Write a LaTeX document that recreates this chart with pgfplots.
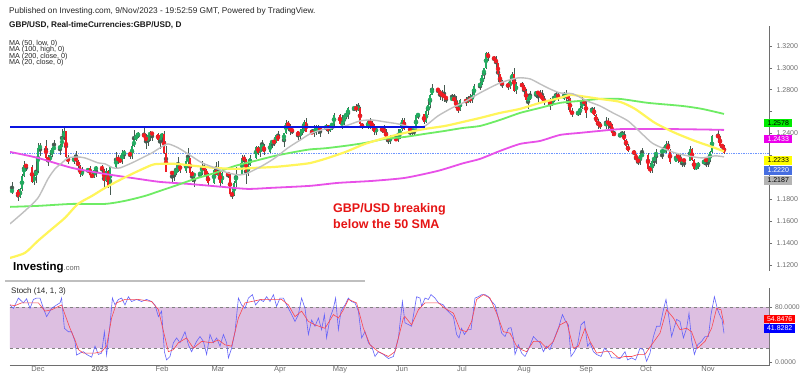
\documentclass[border=0pt]{standalone}
\usepackage{pgfplots}
\pgfplotsset{compat=1.18}
\usepackage{pgfplotstable}
\usepackage{fontspec}
\setmainfont{Liberation Sans}
\definecolor{cgreen}{RGB}{34,171,96}
\definecolor{cred}{RGB}{240,28,36}
\definecolor{mayellow}{RGB}{255,245,90}
\definecolor{magreen}{RGB}{110,236,100}
\definecolor{mamag}{RGB}{232,80,232}
\definecolor{magray}{RGB}{192,192,192}
\definecolor{resblue}{RGB}{10,20,225}
\definecolor{dotblue}{RGB}{110,150,255}
\definecolor{axgray}{RGB}{110,110,110}
\definecolor{band}{RGB}{221,191,225}
\definecolor{kblue}{RGB}{100,100,250}
\definecolor{dred}{RGB}{250,70,80}
\definecolor{lblgreen}{RGB}{0,235,0}
\definecolor{lblmag}{RGB}{235,0,235}
\definecolor{lblyel}{RGB}{255,255,0}
\definecolor{lblblue}{RGB}{70,110,225}
\definecolor{lblgray}{RGB}{180,180,180}
\definecolor{annred}{RGB}{230,20,20}
\definecolor{wick}{RGB}{70,90,80}

\pgfplotstableread{
d o h l c
-13 1.1866 1.1955 1.1852 1.1885
-10 1.1880 1.1890 1.1780 1.1822
-9 1.1822 1.1904 1.1811 1.1890
-8 1.1890 1.2030 1.1872 1.2013
-7 1.2013 1.2153 1.2005 1.2117
-6 1.2117 1.2120 1.2055 1.2093
-3 1.2093 1.2109 1.1945 1.1960
-2 1.1960 1.2038 1.1934 1.2016
-1 1.2016 1.2155 1.1944 1.2055
0 1.2055 1.2310 1.2040 1.2265
1 1.2265 1.2313 1.2195 1.2287
4 1.2287 1.2345 1.2160 1.2180
5 1.2180 1.2205 1.2105 1.2150
6 1.2150 1.2223 1.2140 1.2200
7 1.2200 1.2275 1.2190 1.2265
8 1.2265 1.2344 1.2250 1.2268
11 1.2268 1.2308 1.2208 1.2280
12 1.2280 1.2444 1.2275 1.2365
13 1.2365 1.2447 1.2340 1.2420
14 1.2420 1.2425 1.2145 1.2185
15 1.2185 1.2200 1.2125 1.2140
18 1.2140 1.2200 1.2125 1.2180
19 1.2180 1.2240 1.2140 1.2150
20 1.2150 1.2160 1.2085 1.2100
21 1.2100 1.2115 1.2005 1.2030
22 1.2030 1.2090 1.2010 1.2050
25 1.2050 1.2085 1.2040 1.2082
26 1.2082 1.2100 1.2015 1.2025
27 1.2025 1.2035 1.1990 1.2005
28 1.2005 1.2075 1.1995 1.2065
29 1.2065 1.2100 1.2005 1.2098
32 1.2098 1.2117 1.2030 1.2070
33 1.2070 1.2075 1.1900 1.1965
34 1.1965 1.2085 1.1960 1.2057
35 1.2057 1.2063 1.1900 1.1925
36 1.1925 1.2090 1.1841 1.2090
39 1.2090 1.2235 1.2085 1.2180
40 1.2180 1.2200 1.2125 1.2155
41 1.2155 1.2183 1.2135 1.2150
42 1.2150 1.2247 1.2125 1.2218
43 1.2218 1.2247 1.2170 1.2227
46 1.2227 1.2245 1.2165 1.2195
47 1.2195 1.2300 1.2170 1.2285
48 1.2285 1.2435 1.2280 1.2340
49 1.2340 1.2408 1.2330 1.2385
50 1.2385 1.2412 1.2355 1.2395
53 1.2395 1.2448 1.2330 1.2370
54 1.2370 1.2395 1.2263 1.2335
55 1.2335 1.2390 1.2285 1.2385
56 1.2385 1.2420 1.2330 1.2405
57 1.2405 1.2418 1.2335 1.2395
60 1.2395 1.2405 1.2335 1.2345
61 1.2345 1.2395 1.2260 1.2370
62 1.2370 1.2402 1.2305 1.2395
63 1.2395 1.2420 1.2210 1.2220
64 1.2220 1.2290 1.2045 1.2050
67 1.2050 1.2055 1.1960 1.2030
68 1.2030 1.2070 1.1965 1.2050
69 1.2050 1.2107 1.2025 1.2060
70 1.2060 1.2190 1.2050 1.2120
71 1.2120 1.2135 1.2040 1.2060
74 1.2060 1.2160 1.2035 1.2150
75 1.2150 1.2270 1.2105 1.2175
76 1.2175 1.2178 1.2020 1.2040
77 1.2040 1.2055 1.1960 1.2020
78 1.2020 1.2040 1.1915 1.2025
81 1.2025 1.2050 1.1995 1.2040
82 1.2040 1.2145 1.2020 1.2100
83 1.2100 1.2135 1.2045 1.2065
84 1.2065 1.2080 1.1990 1.2020
85 1.2020 1.2040 1.1925 1.1945
88 1.1945 1.2075 1.1935 1.2065
89 1.2065 1.2140 1.2020 1.2020
90 1.2020 1.2145 1.1995 1.2050
91 1.2050 1.2065 1.1922 1.1950
92 1.1950 1.2045 1.1940 1.2040
95 1.2040 1.2045 1.1995 1.2020
96 1.2020 1.2030 1.1840 1.1850
97 1.1850 1.1875 1.1802 1.1840
98 1.1840 1.1965 1.1825 1.1950
99 1.1950 1.2090 1.1910 1.2030
102 1.2030 1.2205 1.2025 1.2180
103 1.2180 1.2205 1.2110 1.2160
104 1.2160 1.2170 1.1935 1.2050
105 1.2050 1.2130 1.2010 1.2115
106 1.2115 1.2200 1.2100 1.2180
109 1.2180 1.2285 1.2170 1.2280
110 1.2280 1.2290 1.2200 1.2225
111 1.2225 1.2305 1.2190 1.2275
112 1.2275 1.2343 1.2260 1.2290
113 1.2290 1.2300 1.2205 1.2230
116 1.2230 1.2320 1.2225 1.2310
117 1.2310 1.2340 1.2270 1.2335
118 1.2335 1.2345 1.2290 1.2315
119 1.2315 1.2390 1.2310 1.2390
120 1.2390 1.2425 1.2335 1.2335
123 1.2335 1.2405 1.2275 1.2405
124 1.2405 1.2525 1.2395 1.2500
125 1.2500 1.2510 1.2425 1.2465
126 1.2465 1.2485 1.2390 1.2440
127 1.2440 1.2445 1.2395 1.2420
130 1.2420 1.2425 1.2345 1.2375
131 1.2375 1.2440 1.2350 1.2415
132 1.2415 1.2455 1.2385 1.2430
133 1.2430 1.2525 1.2425 1.2505
134 1.2505 1.2546 1.2410 1.2415
137 1.2415 1.2440 1.2395 1.2405
138 1.2405 1.2475 1.2370 1.2435
139 1.2435 1.2475 1.2390 1.2440
140 1.2440 1.2475 1.2400 1.2445
141 1.2445 1.2470 1.2365 1.2440
144 1.2440 1.2485 1.2420 1.2475
145 1.2475 1.2480 1.2395 1.2420
146 1.2420 1.2485 1.2415 1.2475
147 1.2475 1.2490 1.2430 1.2485
148 1.2485 1.2585 1.2470 1.2570
151 1.2570 1.2580 1.2485 1.2490
152 1.2490 1.2565 1.2445 1.2492
153 1.2492 1.2575 1.2480 1.2565
154 1.2565 1.2600 1.2530 1.2570
155 1.2570 1.2640 1.2535 1.2630
158 1.2630 1.2645 1.2605 1.2633
159 1.2633 1.2668 1.2595 1.2628
160 1.2628 1.2680 1.2610 1.2632
161 1.2632 1.2640 1.2485 1.2490
162 1.2490 1.2500 1.2445 1.2455
165 1.2455 1.2520 1.2440 1.2515
166 1.2515 1.2545 1.2445 1.2490
167 1.2490 1.2515 1.2430 1.2475
168 1.2475 1.2490 1.2390 1.2415
169 1.2415 1.2470 1.2390 1.2445
172 1.2445 1.2465 1.2405 1.2435
173 1.2435 1.2475 1.2390 1.2415
174 1.2415 1.2445 1.2350 1.2365
175 1.2365 1.2370 1.2308 1.2345
176 1.2345 1.2390 1.2300 1.2350
179 1.2350 1.2395 1.2330 1.2345
180 1.2345 1.2445 1.2320 1.2380
181 1.2380 1.2445 1.2350 1.2440
182 1.2440 1.2545 1.2425 1.2525
183 1.2525 1.2545 1.2435 1.2445
186 1.2445 1.2450 1.2370 1.2430
187 1.2430 1.2445 1.2390 1.2435
188 1.2435 1.2450 1.2380 1.2440
189 1.2440 1.2575 1.2435 1.2565
190 1.2565 1.2590 1.2535 1.2575
193 1.2575 1.2580 1.2490 1.2505
194 1.2505 1.2620 1.2495 1.2605
195 1.2605 1.2690 1.2565 1.2660
196 1.2660 1.2765 1.2635 1.2755
197 1.2755 1.2848 1.2750 1.2815
200 1.2815 1.2820 1.2760 1.2785
201 1.2785 1.2800 1.2710 1.2760
202 1.2760 1.2800 1.2700 1.2750
203 1.2750 1.2842 1.2685 1.2735
204 1.2735 1.2740 1.2680 1.2715
207 1.2715 1.2765 1.2705 1.2718
208 1.2718 1.2765 1.2700 1.2710
209 1.2710 1.2745 1.2630 1.2635
210 1.2635 1.2665 1.2590 1.2615
211 1.2615 1.2715 1.2605 1.2705
214 1.2705 1.2735 1.2655 1.2690
215 1.2690 1.2745 1.2680 1.2715
216 1.2715 1.2765 1.2680 1.2710
217 1.2710 1.2775 1.2680 1.2750
218 1.2750 1.2850 1.2730 1.2835
221 1.2835 1.2870 1.2795 1.2855
222 1.2855 1.2935 1.2840 1.2930
223 1.2930 1.3000 1.2895 1.2995
224 1.2995 1.3142 1.2990 1.3135
225 1.3135 1.3145 1.3065 1.3090
228 1.3090 1.3110 1.3055 1.3085
229 1.3085 1.3105 1.3000 1.3040
230 1.3040 1.3045 1.2870 1.2940
231 1.2940 1.2945 1.2845 1.2865
232 1.2865 1.2885 1.2815 1.2855
235 1.2855 1.2875 1.2800 1.2825
236 1.2825 1.2900 1.2805 1.2890
237 1.2890 1.2965 1.2850 1.2945
238 1.2945 1.2995 1.2775 1.2785
239 1.2785 1.2870 1.2765 1.2850
242 1.2850 1.2870 1.2815 1.2835
243 1.2835 1.2845 1.2750 1.2785
244 1.2785 1.2805 1.2695 1.2710
245 1.2710 1.2760 1.2620 1.2715
246 1.2715 1.2790 1.2705 1.2750
249 1.2750 1.2790 1.2720 1.2785
250 1.2785 1.2790 1.2690 1.2760
251 1.2760 1.2800 1.2720 1.2750
252 1.2750 1.2800 1.2705 1.2710
253 1.2710 1.2745 1.2665 1.2690
256 1.2690 1.2720 1.2615 1.2680
257 1.2680 1.2710 1.2650 1.2700
258 1.2700 1.2760 1.2690 1.2730
259 1.2730 1.2790 1.2710 1.2750
260 1.2750 1.2775 1.2700 1.2735
263 1.2735 1.2775 1.2710 1.2738
264 1.2738 1.2800 1.2700 1.2750
265 1.2750 1.2760 1.2615 1.2715
266 1.2715 1.2720 1.2590 1.2600
267 1.2600 1.2630 1.2550 1.2580
270 1.2580 1.2610 1.2560 1.2595
271 1.2595 1.2650 1.2565 1.2630
272 1.2630 1.2745 1.2620 1.2705
273 1.2705 1.2715 1.2655 1.2670
274 1.2670 1.2710 1.2545 1.2590
277 1.2590 1.2645 1.2590 1.2625
278 1.2625 1.2640 1.2560 1.2565
279 1.2565 1.2580 1.2490 1.2505
280 1.2505 1.2535 1.2445 1.2485
281 1.2485 1.2505 1.2445 1.2465
284 1.2465 1.2550 1.2445 1.2505
285 1.2505 1.2540 1.2445 1.2495
286 1.2495 1.2510 1.2425 1.2475
287 1.2475 1.2490 1.2380 1.2405
288 1.2405 1.2425 1.2380 1.2385
291 1.2385 1.2400 1.2365 1.2388
292 1.2388 1.2425 1.2375 1.2390
293 1.2390 1.2425 1.2335 1.2345
294 1.2345 1.2350 1.2270 1.2290
295 1.2290 1.2300 1.2230 1.2240
298 1.2240 1.2250 1.2200 1.2215
299 1.2215 1.2215 1.2135 1.2155
300 1.2155 1.2175 1.2110 1.2150
301 1.2150 1.2225 1.2110 1.2200
302 1.2200 1.2270 1.2190 1.2203
305 1.2203 1.2225 1.2075 1.2080
306 1.2080 1.2130 1.2037 1.2065
307 1.2065 1.2160 1.2040 1.2145
308 1.2145 1.2190 1.2105 1.2190
309 1.2190 1.2260 1.2125 1.2235
312 1.2235 1.2240 1.2165 1.2238
313 1.2238 1.2290 1.2230 1.2242
314 1.2242 1.2335 1.2225 1.2300
315 1.2300 1.2335 1.2245 1.2250
316 1.2250 1.2255 1.2125 1.2140
319 1.2140 1.2215 1.2140 1.2195
320 1.2195 1.2210 1.2135 1.2185
321 1.2185 1.2215 1.2130 1.2140
322 1.2140 1.2170 1.2090 1.2160
323 1.2160 1.2165 1.2090 1.2150
326 1.2150 1.2290 1.2145 1.2260
327 1.2260 1.2265 1.2150 1.2155
328 1.2155 1.2165 1.2070 1.2075
329 1.2075 1.2125 1.2070 1.2105
330 1.2105 1.2140 1.2080 1.2125
333 1.2125 1.2165 1.2110 1.2160
334 1.2160 1.2160 1.2095 1.2155
335 1.2155 1.2170 1.2095 1.2160
336 1.2160 1.2240 1.2140 1.2230
337 1.2230 1.2390 1.2220 1.2380
340 1.2380 1.2430 1.2330 1.2370
341 1.2370 1.2375 1.2285 1.2290
342 1.2290 1.2300 1.2265 1.2285
343 1.2285 1.2295 1.2210 1.2220
}\ohlc

\begin{document}
\begin{tikzpicture}[x=1pt,y=1pt]
\useasboundingbox (0,0) rectangle (800,376);
\fill[white] (0,0) rectangle (800,376);

% ---------------- main price panel ----------------
\begin{axis}[
  at={(5,96)}, anchor=south west, scale only axis,
  width=759pt, height=245pt,
  xmin=-14, xmax=365.5, ymin=1.1145, ymax=1.3383,
  axis x line=none, axis y line*=right,
  axis line style={axgray, line width=0.8pt, -},
  ytick={1.12,1.14,1.16,1.18,1.2,1.22,1.24,1.26,1.28,1.3,1.32},
  yticklabels={1.1200,1.1400,1.1600,1.1800,,,1.2400,,1.2800,1.3000,1.3200},
  tick align=outside, major tick length=3pt,
  ytick style={axgray, line width=0.6pt},
  yticklabel style={font=\fontsize{7}{8}\selectfont, text=axgray, xshift=1pt},
  clip mode=individual,
]
% blue dotted current price
\addplot[dotblue, densely dotted, line width=0.7pt] coordinates {(-14,1.2220) (365.5,1.2220)};
% wicks
\addplot[color=wick, only marks, mark=none, error bars/.cd, y dir=both, y explicit, error mark=none,
  error bar style={color=wick, line width=0.5pt}]
  table[x=d, y expr={0.5*(\thisrow{h}+\thisrow{l})}, y error expr={0.5*(\thisrow{h}-\thisrow{l})}] {\ohlc};
% bullish bodies
\addplot[color=cgreen, only marks, mark=none, restrict y to domain=1:2, error bars/.cd, y dir=both, y explicit, error mark=none,
  error bar style={color=cgreen, line width=2.1pt}]
  table[x=d, y expr={(\thisrow{c}>=\thisrow{o}) ? 0.5*(\thisrow{o}+\thisrow{c}) : 0},
        y error expr={max(0.5*abs(\thisrow{c}-\thisrow{o}),0.0003)}] {\ohlc};
% bearish bodies
\addplot[color=cred, only marks, mark=none, restrict y to domain=1:2, error bars/.cd, y dir=both, y explicit, error mark=none,
  error bar style={color=cred, line width=2.1pt}]
  table[x=d, y expr={(\thisrow{c}<\thisrow{o}) ? 0.5*(\thisrow{o}+\thisrow{c}) : 0},
        y error expr={max(0.5*abs(\thisrow{c}-\thisrow{o}),0.0003)}] {\ohlc};
% MA 200 close (magenta)
\addplot[mamag, line width=1.8pt, smooth, tension=0.4] coordinates {
(-14,1.2232) (0,1.2177) (17,1.2086) (33.5,1.2031) (50,1.1986) (61,1.1958) (75,1.1940) (92,1.1913) (105,1.1894) (117,1.1904) (136,1.1922) (150,1.1949) (167,1.1967) (183.5,1.1995) (200,1.2059) (212.5,1.2128) (221,1.2168) (231,1.2241) (241,1.2305) (251,1.2332) (261,1.2387) (271,1.2406) (281,1.2424) (291,1.2440) (305,1.2442) (320,1.2440) (335,1.2436) (343,1.2433)};
% MA 100 high (green)
\addplot[magreen, line width=1.8pt, smooth, tension=0.4] coordinates {
(-14,1.1730) (0,1.1739) (17,1.1757) (33.5,1.1757) (43.5,1.1785) (53.5,1.1830) (61,1.1876) (68.5,1.1922) (78.5,1.1986) (88.5,1.2040) (98.5,1.2104) (108.5,1.2150) (118.5,1.2196) (128.5,1.2232) (136,1.2255) (143.5,1.2265) (153.5,1.2287) (163.5,1.2314) (173.5,1.2351) (183.5,1.2369) (193.5,1.2397) (203.5,1.2424) (212.5,1.2451) (221,1.2469) (231,1.2524) (241,1.2588) (251,1.2634) (261,1.2680) (271,1.2698) (281,1.2716) (291,1.2716) (305,1.2680) (322,1.2652) (332,1.2625) (343,1.2579)};
% MA 50 low (yellow)
\addplot[mayellow, line width=2.2pt, smooth, tension=0.4] coordinates {
(-14,1.1264) (-6.5,1.1310) (0,1.1420) (7,1.1529) (13.5,1.1630) (20,1.1757) (27,1.1830) (33.5,1.1903) (40,1.1967) (47,1.2031) (53.5,1.2086) (58.5,1.2120) (68.5,1.2123) (78.5,1.2104) (88.5,1.2086) (98.5,1.2077) (108.5,1.2086) (118.5,1.2095) (128.5,1.2113) (136,1.2130) (143.5,1.2168) (153.5,1.2230) (163.5,1.2305) (173.5,1.2360) (183.5,1.2406) (193.5,1.2442) (203.5,1.2469) (212.5,1.2506) (221,1.2542) (231,1.2588) (241,1.2625) (251,1.2680) (261,1.2725) (266,1.2753) (271,1.2743) (281,1.2716) (291,1.2689) (298.5,1.2625) (308.5,1.2497) (318.5,1.2406) (328.5,1.2332) (337,1.2278) (343,1.2237)};
% MA 20 close (gray)
\addplot[magray, line width=1.4pt, smooth, tension=0.4] coordinates {
(-14,1.1575) (-6.5,1.1694) (0,1.1812) (5,1.1986) (8.5,1.2077) (12,1.2132) (15,1.2177) (19.5,1.2186) (23.5,1.2177) (30,1.2132) (33.5,1.2123) (37.5,1.2086) (41,1.2086) (47,1.2132) (52,1.2177) (57,1.2223) (61,1.2269) (65,1.2305) (70,1.2270) (75,1.2214) (82,1.2132) (88.5,1.2086) (95,1.2040) (101,1.2022) (105,1.2040) (112,1.2104) (118.5,1.2177) (125,1.2269) (132,1.2351) (136,1.2397) (143.5,1.2442) (153.5,1.2469) (161,1.2515) (167,1.2524) (173.5,1.2506) (180,1.2488) (188.5,1.2451) (193.5,1.2469) (200,1.2561) (207,1.2634) (212.5,1.2680) (221,1.2771) (231,1.2862) (240,1.2908) (246,1.2899) (251,1.2853) (256,1.2807) (261,1.2771) (267.5,1.2762) (274.5,1.2698) (281,1.2652) (287.5,1.2588) (295,1.2515) (302,1.2397) (307,1.2314) (312,1.2269) (318.5,1.2223) (325,1.2196) (332,1.2177) (338.5,1.2196) (343,1.2187)};
% resistance line
\addplot[resblue, line width=1.8pt] coordinates {(-14,1.2462) (193.5,1.2462)};
\end{axis}

% ---------------- stochastic panel ----------------
\begin{axis}[
  at={(5,15)}, anchor=south west, scale only axis,
  width=759pt, height=78pt,
  xmin=-14, xmax=365.5, ymin=-5.4, ymax=108.1,
  axis x line*=bottom, axis y line*=right,
  axis line style={axgray, line width=0.8pt, -},
  xtick={0,31,62,90,121,151,182,212,243,274,304,335},
  xticklabels={Dec,\textbf{2023},Feb,Mar,Apr,May,Jun,Jul,Aug,Sep,Oct,Nov},
  xtick style={draw=none},
  xticklabel style={font=\fontsize{7.5}{8}\selectfont, text=axgray, yshift=6pt},
  ytick={0,80}, yticklabels={0.0000,80.0000},
  tick align=outside, major tick length=3pt,
  ytick style={axgray, line width=0.6pt},
  yticklabel style={font=\fontsize{6.8}{8}\selectfont, text=axgray, xshift=-0.5pt},
  clip mode=individual,
]
\addplot[draw=none, fill=band] coordinates {(-14,20) (365.5,20) (365.5,80) (-14,80) (-14,20)};
\addplot[black!50, dashed, line width=0.7pt] coordinates {(-14,80) (365.5,80)};
\addplot[black!50, dashed, line width=0.7pt] coordinates {(-14,20) (365.5,20)};
% %K (blue)
\addplot[kblue, line width=0.6pt] coordinates {
(-14,83) (-12.3,78) (-9.8,93) (-7.3,86) (-5.7,92) (-4,78) (-2.3,91) (-0.7,93) (1,93) (2.7,78) (4.3,66) (6.8,78) (9.3,83) (11,86) (11.8,93) (13.2,49) (15.2,44) (16.8,44) (18.5,30) (19.3,10) (21,13) (22.7,15) (24.3,11) (26.8,7) (28.5,23) (30.2,11) (31.8,13) (33.2,44) (34.3,10) (36,54) (37.2,93) (38.5,83) (40.2,91) (41.8,93) (43.5,83) (45.2,95) (46.8,88) (49.3,91) (51.8,88) (54.3,91) (56.8,88) (58.5,83) (60.2,66) (61.8,74) (63.2,15) (64.3,3) (66,8) (67.7,28) (69.3,35) (71,28) (73.5,44) (75.2,25) (76.8,15) (79.3,30) (81,37) (82.7,30) (84.3,11) (86,40) (87.7,28) (89.3,35) (91,23) (92.7,40) (94.3,28) (95.2,6) (96.8,20) (98.5,44) (100.2,93) (101.8,83) (103.5,78) (105.2,93) (107.2,98) (108.8,83) (111,91) (112.7,88) (114.3,95) (116,88) (117.7,98) (119.3,81) (121,93) (122.7,93) (124.3,83) (126.5,71) (128.5,59) (130.2,69) (131.8,93) (133.5,78) (135.2,40) (136.8,61) (138.5,52) (140.2,64) (141.8,47) (143.2,69) (144.3,35) (146,64) (147.7,78) (148.8,93) (150.2,47) (151.5,74) (153.5,83) (155.2,93) (156.8,88) (158.5,86) (160.2,74) (161.8,35) (163.5,44) (165.2,28) (166.8,23) (168.5,8) (170.2,15) (172.7,11) (175.2,5) (177.7,8) (180.2,35) (182.2,88) (183.5,57) (186.8,52) (189.3,95) (191,93) (191.8,81) (193.5,93) (195.2,91) (196.5,98) (198.5,93) (200.2,86) (202.7,83) (204.3,76) (206,71) (207.7,66) (209.3,40) (210.5,35) (211.8,49) (213.2,40) (214.8,47) (216.5,47) (218.5,93) (220.2,95) (221.8,98) (223.5,98) (225.2,95) (226.8,88) (228.5,83) (230.2,64) (231.8,42) (233.5,37) (235.2,49) (236.5,50) (237.7,35) (238.5,11) (240.2,25) (241.8,13) (243.5,8) (245.2,18) (247.7,37) (249.3,32) (251,28) (252.7,15) (254.3,23) (256,18) (258.5,37) (260.5,52) (262.2,69) (263.8,59) (265.2,54) (266.5,8) (268.2,15) (269.8,25) (271.5,54) (273.2,59) (274.8,23) (276,28) (277.7,15) (279.3,11) (281.5,8) (283.2,20) (285.2,15) (286.8,6) (288.8,6) (291,5) (293.5,15) (294.8,3) (296.8,6) (298.8,3) (301,20) (302.7,18) (304.3,1) (306,13) (307.7,37) (309.3,52) (311,52) (312.7,76) (314,91) (315.5,64) (316.8,37) (319.3,62) (321,59) (322.7,35) (324.3,49) (325.5,71) (326.8,32) (328.2,11) (329.8,25) (331.8,30) (333.5,37) (335.2,37) (336.5,69) (338.2,95) (339.8,76) (341.5,64) (342,62) (343,41.8)};
% %D (red)
\addplot[dred, line width=0.6pt] coordinates {
(-14,83) (-11.5,82) (-8.2,86) (-3.2,86) (0.2,86) (3.5,74) (6.8,76) (11.8,83) (13.5,69) (16,49) (18.5,32) (20.2,18) (22.7,13) (25.2,13) (28.5,13) (31.8,15) (34.3,23) (36.8,64) (39.3,86) (43.5,91) (50.2,91) (56.8,88) (60.2,76) (62.7,45) (65.2,15) (67.7,18) (70.2,28) (74.3,35) (77.7,20) (81.8,30) (86.8,28) (90.2,32) (93.5,25) (96.8,23) (100.2,64) (103.5,86) (106.8,88) (111.8,91) (116.8,91) (121.8,91) (125.2,83) (128.5,66) (131.8,74) (135.2,59) (138.5,54) (143.5,49) (147.7,69) (150.2,64) (152.7,76) (155.2,91) (159.3,86) (162.7,49) (166,25) (170.2,15) (175.2,8) (178.5,15) (182.7,64) (183.5,66) (186.8,54) (190.2,76) (193.5,86) (196.8,86) (200.2,86) (203.5,78) (207.7,71) (211,47) (214.3,44) (216.8,59) (219.3,91) (222.7,98) (226,93) (229.3,71) (232.7,44) (236,42) (239.3,23) (241.8,18) (244.3,15) (247.7,30) (251,30) (254.3,20) (257.7,30) (261,54) (264.3,59) (267.7,20) (270.2,23) (273.5,49) (276,30) (279.3,13) (283.5,15) (286.8,15) (290.2,6) (293.5,8) (296.8,8) (300.2,11) (303.5,11) (306.8,25) (311,42) (314.3,76) (317.7,64) (321,47) (324.3,49) (326.8,44) (329.8,20) (333.5,30) (336.8,49) (339.3,78) (341.5,76) (343,54.8)};
\end{axis}

% separator under the logo
\draw[line width=2pt, black!25] (5,95) -- (365,95);

% price labels at right
\tikzset{plbl/.style={anchor=west, inner sep=1.5pt, minimum height=8.5pt, minimum width=28pt, font=\fontsize{7}{7}\selectfont}}
\node[plbl, fill=lblgreen, text=black] at (764,253) {1.2578};
\node[plbl, fill=lblmag, text=white] at (764,237) {1.2433};
\node[plbl, fill=lblyel, text=black] at (764,215.5) {1.2233};
\node[plbl, fill=lblblue, text=white] at (764,205.5) {1.2220};
\node[plbl, fill=lblgray, text=black] at (764,195.5) {1.2187};
\node[plbl, fill=red, text=white, minimum width=31pt] at (764,57) {54.8476};
\node[plbl, fill=blue, text=white, minimum width=31pt] at (764,47.5) {41.8282};

% header texts
\node[anchor=west, inner sep=0pt, font=\fontsize{8.3}{9}\selectfont, text=black!85] at (9,365) {Published on Investing.com, 9/Nov/2023 - 19:52:59 GMT, Powered by TradingView.};
\node[anchor=west, inner sep=0pt, font=\fontsize{8.2}{9}\selectfont\bfseries, text=black!90] at (9,351) {GBP/USD, Real-timeCurrencies:GBP/USD, D};
\node[anchor=west, inner sep=0pt, font=\fontsize{7.2}{8}\selectfont, text=black!85] at (9,332.5) {MA (50, low, 0)};
\node[anchor=west, inner sep=0pt, font=\fontsize{7.2}{8}\selectfont, text=black!85] at (9,326) {MA (100, high, 0)};
\node[anchor=west, inner sep=0pt, font=\fontsize{7.2}{8}\selectfont, text=black!85] at (9,319.5) {MA (200, close, 0)};
\node[anchor=west, inner sep=0pt, font=\fontsize{7.2}{8}\selectfont, text=black!85] at (9,313) {MA (20, close, 0)};

% annotation
\node[anchor=west, inner sep=0pt, font=\fontsize{12.5}{14}\selectfont\bfseries, text=annred] at (333,167) {GBP/USD breaking};
\node[anchor=west, inner sep=0pt, font=\fontsize{12.5}{14}\selectfont\bfseries, text=annred] at (333,152) {below the 50 SMA};

% logo
\node[anchor=west, inner sep=0pt] at (13,108) {{\fontsize{11.5}{12}\selectfont\bfseries Investing}{\fontsize{7.5}{8}\selectfont\color{black!60}.com}};

% stoch title
\node[anchor=west, inner sep=0pt, font=\fontsize{8}{9}\selectfont, text=black!85] at (11,85) {Stoch (14, 1, 3)};
\end{tikzpicture}
\end{document}
